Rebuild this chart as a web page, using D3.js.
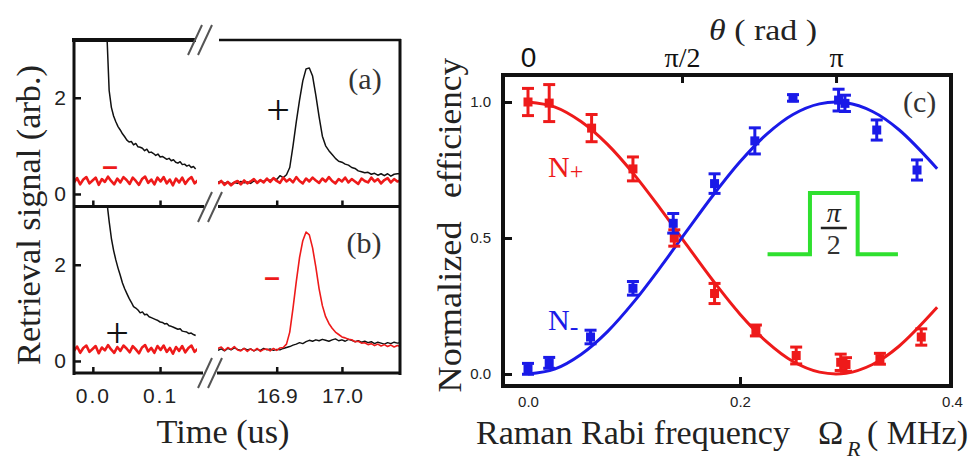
<!DOCTYPE html>
<html>
<head>
<meta charset="UTF-8" />
<title>Retrieval signal and Rabi oscillation</title>
<style>
  body { margin: 0; background: #fff; }
  svg { display: block; }
</style>
<script src="https://cdn.jsdelivr.net/npm/d3@7"></script>
</head>
<body>
<script>
  /* ---------- data: panels (a) and (b), retrieval traces ---------- */
  // left segment sampled from t0 with a fixed step (us), right segment the same
  let leftRedStart = -0.028, leftRedStep = 0.0046;
  let leftBlackStart = 0.021, leftBlackStep = 0.0033;
  let rightStart = 16.81, rightStep = 0.005;

  let aRedLeft = [0.24,0.33,0.20,0.30,0.35,0.22,0.28,0.34,0.19,0.31,0.25,0.36,0.27,0.20,0.32,0.24,0.35,0.29,0.21,0.34,0.27,0.19,0.31,0.36,0.23,0.30,0.20,0.34,0.26,0.35,0.22,0.30,0.18,0.32,0.24,0.34,0.21,0.30,0.35,0.22,0.28];
  let aBlackLeft = [3.3,2.15,1.8,1.62,1.5,1.4,1.33,1.25,1.19,1.12,1.08,1.09,1.02,1.05,0.98,0.97,0.95,0.90,0.93,0.86,0.87,0.84,0.80,0.83,0.77,0.78,0.75,0.72,0.74,0.69,0.71,0.66,0.64,0.67,0.61,0.62,0.58,0.60,0.55,0.57,0.52];
  let aBlackRight = [0.24,0.27,0.22,0.25,0.21,0.24,0.22,0.26,0.23,0.25,0.22,0.27,0.25,0.28,0.26,0.30,0.28,0.32,0.30,0.38,0.34,0.40,0.55,1.0,1.5,1.95,2.35,2.6,2.62,2.45,2.05,1.6,1.2,1.0,0.9,0.82,0.74,0.68,0.66,0.62,0.6,0.55,0.53,0.48,0.46,0.44,0.45,0.41,0.43,0.39,0.42,0.38,0.42,0.37,0.41,0.42,0.42];
  let aRedRight = [0.21,0.27,0.19,0.25,0.18,0.24,0.27,0.20,0.28,0.22,0.26,0.31,0.23,0.29,0.24,0.32,0.25,0.33,0.27,0.23,0.34,0.26,0.31,0.24,0.35,0.27,0.22,0.32,0.26,0.34,0.28,0.23,0.32,0.26,0.35,0.27,0.22,0.31,0.26,0.34,0.24,0.31,0.26,0.21,0.32,0.27,0.24,0.34,0.26,0.31,0.22,0.29,0.33,0.24,0.31,0.26,0.28];

  let bRedLeft = [0.21,0.30,0.17,0.27,0.32,0.19,0.25,0.31,0.16,0.28,0.22,0.33,0.24,0.17,0.29,0.21,0.32,0.26,0.18,0.31,0.24,0.16,0.28,0.33,0.20,0.27,0.17,0.31,0.23,0.32,0.19,0.27,0.15,0.29,0.21,0.31,0.18,0.27,0.32,0.19,0.25];
  let bBlackLeft = [3.3,2.9,2.55,2.3,2.1,1.93,1.78,1.62,1.5,1.4,1.3,1.22,1.13,1.1,1.06,1.0,1.02,0.96,0.97,0.92,0.9,0.88,0.86,0.84,0.81,0.8,0.77,0.78,0.73,0.72,0.7,0.68,0.66,0.67,0.62,0.61,0.6,0.57,0.58,0.55,0.53];
  let bBlackRight = [0.22,0.25,0.21,0.26,0.23,0.27,0.24,0.22,0.26,0.23,0.25,0.21,0.24,0.22,0.26,0.23,0.25,0.22,0.24,0.23,0.26,0.28,0.3,0.33,0.35,0.38,0.36,0.4,0.43,0.41,0.44,0.42,0.45,0.43,0.41,0.44,0.46,0.42,0.44,0.41,0.45,0.43,0.40,0.42,0.39,0.41,0.38,0.40,0.36,0.39,0.37,0.35,0.38,0.36,0.39,0.37,0.38];
  let bRedRight = [0.26,0.29,0.22,0.28,0.24,0.30,0.23,0.21,0.26,0.20,0.25,0.21,0.26,0.20,0.24,0.25,0.21,0.26,0.22,0.27,0.28,0.35,0.6,1.1,1.65,2.15,2.5,2.68,2.62,2.35,1.95,1.5,1.15,0.92,0.78,0.68,0.6,0.55,0.5,0.48,0.45,0.44,0.4,0.41,0.37,0.38,0.34,0.36,0.32,0.35,0.31,0.34,0.3,0.33,0.29,0.32,0.3];

  let leftTicks = [0, 0.1];
  let rightTicks = [16.9, 17.0];
  let signalTicks = [0, 2];

  /* ---------- data: panel (c), normalized efficiency ---------- */
  let plusOmega = [0, 0.020, 0.060, 0.099, 0.138, 0.176, 0.215, 0.253, 0.295, 0.300, 0.332, 0.371];
  let plusVal   = [1.0, 0.996, 0.904, 0.754, 0.50, 0.296, 0.16, 0.068, 0.043, 0.035, 0.056, 0.136];
  let plusErr   = [0.05, 0.068, 0.05, 0.044, 0.03, 0.037, 0.02, 0.031, 0.03, 0.025, 0.02, 0.03];
  let minusOmega = [0, 0.020, 0.059, 0.099, 0.137, 0.176, 0.214, 0.250, 0.293, 0.299, 0.329, 0.367];
  let minusVal   = [0.019, 0.041, 0.136, 0.315, 0.554, 0.70, 0.857, 1.015, 1.007, 0.995, 0.897, 0.75];
  let minusErr   = [0.02, 0.02, 0.025, 0.025, 0.036, 0.036, 0.048, 0.012, 0.04, 0.03, 0.037, 0.037];

  let fitOmega = [0, 0.025, 0.05, 0.075, 0.1, 0.125, 0.15, 0.175, 0.2, 0.225, 0.25, 0.275, 0.3, 0.325, 0.35, 0.386];
  let fitPlus  = [1.0, 0.982, 0.928, 0.844, 0.734, 0.607, 0.473, 0.341, 0.220, 0.119, 0.046, 0.007, 0.003, 0.035, 0.102, 0.245];
  let fitMinus = [0, 0.018, 0.072, 0.156, 0.266, 0.393, 0.527, 0.659, 0.78, 0.881, 0.954, 0.993, 0.997, 0.965, 0.898, 0.755];

  // pi/2 pulse sketch, in (Omega, efficiency) units
  let pulseOmega = [0.226, 0.266, 0.266, 0.311, 0.311, 0.349];
  let pulseLevel = [0.44, 0.44, 0.665, 0.665, 0.44, 0.44];

  let omegaTicks = [0, 0.2, 0.4];
  let effTicks = [0, 0.5, 1.0];
  let omegaPi = 0.2906;            // Omega at theta = pi
  let thetaTicks = [0, Math.PI / 2, Math.PI];
  let thetaLabels = ["0", "π/2", "π"];

  let red = "#ee1a1a", blue = "#1a1ae8", green = "#2fe02f", ink = "#111";
  let serif = "'Liberation Serif', 'Times New Roman', serif";
  let sans = "'Liberation Sans', Arial, sans-serif";

  let svg = d3.select("body").append("svg")
    .attr("width", 979)
    .attr("height", 466);

  svg.append("rect").attr("width", 979).attr("height", 466).attr("fill", "#fff");
  let defs = svg.append("defs");

  /* ---------- panels (a) and (b) ---------- */
  let xL = d3.scaleLinear().domain([-0.028, 0.155]).range([74, 197]);
  let xR = d3.scaleLinear().domain([16.81, 17.089]).range([218, 400]);
  let yA = d3.scaleLinear().domain([-0.25, 3.2]).range([206, 40]);
  let yB = d3.scaleLinear().domain([-0.25, 3.2]).range([373, 207]);

  function clip(id, xs, ys) {
    defs.append("clipPath").attr("id", id).append("rect")
      .attr("x", xs.range()[0]).attr("y", ys.range()[1])
      .attr("width", xs.range()[1] - xs.range()[0])
      .attr("height", ys.range()[0] - ys.range()[1]);
    return svg.append("g").attr("clip-path", `url(#${id})`);
  }

  function trace(g, xs, ys, t0, step, vals, color, w) {
    g.append("path")
      .datum(vals)
      .attr("fill", "none")
      .attr("stroke", color)
      .attr("stroke-width", w)
      .attr("stroke-linejoin", "round")
      .attr("d", d3.line().x((v, i) => xs(t0 + i * step)).y(v => ys(v)));
  }

  let gaL = clip("aL", xL, yA), gaR = clip("aR", xR, yA);
  let gbL = clip("bL", xL, yB), gbR = clip("bR", xR, yB);

  trace(gaL, xL, yA, leftBlackStart, leftBlackStep, aBlackLeft, ink, 1.5);
  trace(gaL, xL, yA, leftRedStart, leftRedStep, aRedLeft, red, 2.6);
  trace(gaR, xR, yA, rightStart, rightStep, aBlackRight, ink, 1.5);
  trace(gaR, xR, yA, rightStart, rightStep, aRedRight, red, 2.6);

  trace(gbL, xL, yB, leftBlackStart, leftBlackStep, bBlackLeft, ink, 1.5);
  trace(gbL, xL, yB, leftRedStart, leftRedStep, bRedLeft, red, 2.6);
  trace(gbR, xR, yB, rightStart, rightStep, bBlackRight, ink, 1.4);
  trace(gbR, xR, yB, rightStart, rightStep, bRedRight, red, 1.6);

  /* frames with axis breaks */
  let frame = svg.append("g").attr("stroke", ink).attr("stroke-width", 3);
  frame.append("line").attr("x1", 74).attr("x2", 74).attr("y1", 38).attr("y2", 375);
  frame.append("line").attr("x1", 400).attr("x2", 400).attr("y1", 39).attr("y2", 375);
  frame.append("line").attr("x1", 72).attr("x2", 196).attr("y1", 40).attr("y2", 40).attr("stroke-width", 4);
  frame.append("line").attr("x1", 219).attr("x2", 401).attr("y1", 40).attr("y2", 40).attr("stroke-width", 2.5);
  frame.append("line").attr("x1", 74).attr("x2", 204).attr("y1", 206.5).attr("y2", 206.5);
  frame.append("line").attr("x1", 218).attr("x2", 400).attr("y1", 206.5).attr("y2", 206.5);
  frame.append("line").attr("x1", 74).attr("x2", 203).attr("y1", 373).attr("y2", 373);
  frame.append("line").attr("x1", 217).attr("x2", 400).attr("y1", 373).attr("y2", 373);

  let breaks = svg.append("g").attr("stroke", "#555").attr("stroke-width", 2);
  [[200, 40], [210, 207], [210, 373]].forEach(([cx, cy]) => {
    [-5, 5].forEach(dx => {
      breaks.append("line")
        .attr("x1", cx + dx - 7).attr("y1", cy + 15)
        .attr("x2", cx + dx + 7).attr("y2", cy - 15);
    });
  });

  function styleAxis(g, size, family) {
    g.select(".domain").remove();
    g.selectAll(".tick line").attr("stroke", ink).attr("stroke-width", 2.5);
    g.selectAll(".tick text").attr("font-size", size).attr("font-family", family).attr("fill", "#222");
  }

  [[yA], [yB]].forEach(([ys]) => {
    let g = svg.append("g").attr("transform", "translate(74,0)")
      .call(d3.axisLeft(ys).tickValues(signalTicks).tickFormat(d3.format("d"))
        .tickSizeInner(-7).tickSizeOuter(0).tickPadding(8));
    styleAxis(g, 21, sans);
  });

  [[206.5, false], [373, true]].forEach(([yPos, withLabels]) => {
    let fmt = withLabels ? d3.format(".1f") : () => "";
    let gl = svg.append("g").attr("transform", `translate(0,${yPos})`)
      .call(d3.axisBottom(xL).tickValues(leftTicks).tickFormat(fmt)
        .tickSizeInner(-6).tickSizeOuter(0).tickPadding(15));
    let gr = svg.append("g").attr("transform", `translate(0,${yPos})`)
      .call(d3.axisBottom(xR).tickValues(rightTicks).tickFormat(fmt)
        .tickSizeInner(-6).tickSizeOuter(0).tickPadding(15));
    styleAxis(gl, 21, sans);
    styleAxis(gr, 21, sans);
    gl.selectAll(".tick text").attr("letter-spacing", 2);
  });

  /* labels of panels (a) and (b) */
  svg.append("text")
    .attr("transform", "translate(40,215) rotate(-90)")
    .attr("text-anchor", "middle")
    .attr("font-family", serif).attr("font-size", 34).attr("fill", "#222")
    .attr("textLength", 300).attr("lengthAdjust", "spacingAndGlyphs")
    .text("Retrieval signal (arb.)");

  svg.append("text")
    .attr("x", 223).attr("y", 443)
    .attr("text-anchor", "middle")
    .attr("font-family", serif).attr("font-size", 34).attr("fill", "#222")
    .attr("textLength", 133).attr("lengthAdjust", "spacingAndGlyphs")
    .text("Time (us)");

  let marks = [
    { t: "(a)", x: 365, y: 89, c: "#333", f: serif, s: 30 },
    { t: "(b)", x: 364, y: 253, c: "#333", f: serif, s: 30 },
    { t: "+", x: 278, y: 124, c: ink, f: serif, s: 42 },
    { t: "+", x: 117, y: 347, c: ink, f: serif, s: 42 },
    { t: "–", x: 110, y: 175, c: red, f: sans, s: 28, w: "bold" },
    { t: "–", x: 272, y: 286, c: red, f: sans, s: 28, w: "bold" }
  ];
  marks.forEach(m => {
    svg.append("text")
      .attr("x", m.x).attr("y", m.y)
      .attr("text-anchor", "middle")
      .attr("font-family", m.f).attr("font-size", m.s)
      .attr("font-weight", m.w || "normal")
      .attr("fill", m.c)
      .text(m.t);
  });

  /* ---------- panel (c) ---------- */
  let xC = d3.scaleLinear().domain([0, 0.4]).range([528, 952]);
  let yC = d3.scaleLinear().domain([0, 1]).range([374, 102]);
  let xTheta = d3.scaleLinear().domain([0, Math.PI]).range([xC(0), xC(omegaPi)]);

  let fitLine = d3.line().curve(d3.curveCatmullRom)
    .x((v, i) => xC(fitOmega[i])).y(v => yC(v));

  svg.append("path").datum(fitPlus)
    .attr("fill", "none").attr("stroke", red).attr("stroke-width", 3)
    .attr("d", fitLine);
  svg.append("path").datum(fitMinus)
    .attr("fill", "none").attr("stroke", blue).attr("stroke-width", 3)
    .attr("d", fitLine);

  function points(omegas, vals, errs, color) {
    let rows = omegas.map((o, i) => ({ o: o, v: vals[i], e: errs[i] }));
    let g = svg.append("g").attr("stroke", color).attr("fill", color);
    let pts = g.selectAll("g").data(rows).enter().append("g");
    pts.append("line")
      .attr("x1", d => xC(d.o)).attr("x2", d => xC(d.o))
      .attr("y1", d => yC(d.v - d.e)).attr("y2", d => yC(d.v + d.e))
      .attr("stroke-width", 3);
    [-1, 1].forEach(sgn => {
      pts.append("line")
        .attr("x1", d => xC(d.o) - 6).attr("x2", d => xC(d.o) + 6)
        .attr("y1", d => yC(d.v + sgn * d.e)).attr("y2", d => yC(d.v + sgn * d.e))
        .attr("stroke-width", 3);
    });
    pts.append("rect")
      .attr("x", d => xC(d.o) - 4.5).attr("y", d => yC(d.v) - 4.5)
      .attr("width", 9).attr("height", 9)
      .attr("stroke", "none");
  }
  points(plusOmega, plusVal, plusErr, red);
  points(minusOmega, minusVal, minusErr, blue);

  /* pi/2 pulse */
  svg.append("path")
    .datum(pulseLevel)
    .attr("fill", "none").attr("stroke", green).attr("stroke-width", 4)
    .attr("d", d3.line().x((v, i) => xC(pulseOmega[i])).y(v => yC(v)));

  let pulseMid = (xC(pulseOmega[1]) + xC(pulseOmega[3])) / 2;
  svg.append("text")
    .attr("x", pulseMid).attr("y", 222)
    .attr("text-anchor", "middle")
    .attr("font-family", serif).attr("font-style", "italic")
    .attr("font-size", 28).attr("fill", "#222")
    .text("π");
  svg.append("line")
    .attr("x1", pulseMid - 13).attr("x2", pulseMid + 13)
    .attr("y1", 228).attr("y2", 228)
    .attr("stroke", "#222").attr("stroke-width", 2.5);
  svg.append("text")
    .attr("x", pulseMid).attr("y", 254)
    .attr("text-anchor", "middle")
    .attr("font-family", serif).attr("font-size", 28).attr("fill", "#333")
    .text("2");

  /* frame of (c) */
  svg.append("rect")
    .attr("x", 503).attr("y", 75).attr("width", 448).attr("height", 311)
    .attr("fill", "none").attr("stroke", ink).attr("stroke-width", 4);

  let gLeft = svg.append("g").attr("transform", "translate(503,0)")
    .call(d3.axisLeft(yC).tickValues(effTicks).tickFormat(d3.format(".1f"))
      .tickSizeInner(-9).tickSizeOuter(0).tickPadding(12));
  styleAxis(gLeft, 15, sans);
  gLeft.selectAll(".tick line").attr("stroke-width", 3);

  let gBottom = svg.append("g").attr("transform", "translate(0,386)")
    .call(d3.axisBottom(xC).tickValues(omegaTicks).tickFormat(d3.format(".1f"))
      .tickSizeInner(-9).tickSizeOuter(0).tickPadding(10));
  styleAxis(gBottom, 15, sans);
  gBottom.selectAll(".tick line").attr("stroke-width", 3)
    .attr("opacity", d => d === 0.2 ? 1 : 0);

  let gTop = svg.append("g").attr("transform", "translate(0,75)")
    .call(d3.axisTop(xTheta).tickValues(thetaTicks).tickFormat((d, i) => thetaLabels[i])
      .tickSizeInner(-8).tickSizeOuter(0).tickPadding(8));
  styleAxis(gTop, 28, serif);
  gTop.selectAll(".tick line").attr("stroke-width", 3).attr("opacity", (d, i) => i === 0 ? 0 : 1);
  gTop.selectAll(".tick text")
    .attr("fill", "#111")
    .attr("font-family", (d, i) => i === 0 ? sans : serif);

  /* labels of (c) */
  let title = svg.append("text")
    .attr("x", 709).attr("y", 40)
    .attr("font-family", serif).attr("font-size", 30).attr("fill", "#222")
    .attr("textLength", 108).attr("lengthAdjust", "spacingAndGlyphs");
  title.append("tspan").attr("font-style", "italic").text("θ");
  title.append("tspan").text(" ( rad )");

  svg.append("text")
    .attr("transform", "translate(461,128) rotate(-90)")
    .attr("text-anchor", "middle")
    .attr("font-family", serif).attr("font-size", 34).attr("fill", "#222")
    .attr("textLength", 140).attr("lengthAdjust", "spacingAndGlyphs")
    .text("efficiency");
  svg.append("text")
    .attr("transform", "translate(461,307) rotate(-90)")
    .attr("text-anchor", "middle")
    .attr("font-family", serif).attr("font-size", 34).attr("fill", "#222")
    .attr("textLength", 171).attr("lengthAdjust", "spacingAndGlyphs")
    .text("Normalized");

  svg.append("text")
    .attr("x", 476).attr("y", 444)
    .attr("font-family", serif).attr("font-size", 34).attr("fill", "#222")
    .attr("textLength", 314).attr("lengthAdjust", "spacingAndGlyphs")
    .text("Raman Rabi frequency");
  svg.append("text")
    .attr("x", 818).attr("y", 444)
    .attr("font-family", serif).attr("font-size", 34).attr("fill", "#222")
    .text("Ω");
  svg.append("text")
    .attr("x", 847).attr("y", 456)
    .attr("font-family", serif).attr("font-size", 22).attr("font-style", "italic").attr("fill", "#222")
    .text("R");
  svg.append("text")
    .attr("x", 867).attr("y", 444)
    .attr("font-family", serif).attr("font-size", 34).attr("fill", "#222")
    .attr("textLength", 101).attr("lengthAdjust", "spacingAndGlyphs")
    .text("( MHz)");

  let nPlus = svg.append("text")
    .attr("x", 548).attr("y", 177)
    .attr("font-family", serif).attr("font-size", 30).attr("fill", red);
  nPlus.append("tspan").text("N");
  nPlus.append("tspan").attr("font-size", 24).attr("dy", 2).text("+");

  let nMinus = svg.append("text")
    .attr("x", 548).attr("y", 330)
    .attr("font-family", serif).attr("font-size", 30).attr("fill", blue);
  nMinus.append("tspan").text("N");
  nMinus.append("tspan").attr("font-size", 26).attr("dy", 5).text("-");

  svg.append("text")
    .attr("x", 903).attr("y", 112)
    .attr("font-family", serif).attr("font-size", 30).attr("fill", "#333")
    .text("(c)");
</script>
</body>
</html>
